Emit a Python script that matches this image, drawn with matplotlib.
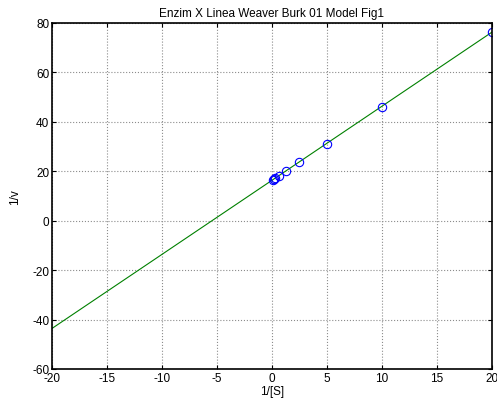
import numpy as np
from matplotlib import pyplot as plt

plt.rcParams['font.family'] = ['Liberation Sans', 'DejaVu Sans']
plt.rcParams['axes.unicode_minus'] = False

# data points (1/[S], 1/v)
inv_s = [20, 10, 5, 2.5, 1.25, 0.625, 0.3125, 0.15625, 0.078125]
inv_v = [76.3, 46.2, 31.2, 23.8, 20.0, 18.2, 17.2, 16.8, 16.5]

# fitted line ends
fit_x = [-20, 20]
fit_y = [-43.6, 76.3]

x_ticks = [-20, -15, -10, -5, 0, 5, 10, 15, 20]
y_ticks = [-60, -40, -20, 0, 20, 40, 60, 80]

fig = plt.figure(figsize=(4.97, 4.10), dpi=100)
ax = fig.add_axes([0.1046, 0.0976, 0.8853, 0.8439])

ax.plot(fit_x, fit_y, color=(0, 0.5, 0), lw=0.8)
ax.plot(inv_s, inv_v, 'o', mfc='none', mec='blue', ms=6, mew=0.8)

ax.set_xlim(-20, 20)
ax.set_ylim(-60, 80)
ax.set_xticks(x_ticks)
ax.set_yticks(y_ticks)
ax.grid(True, color='0.55', linestyle=':', lw=0.8)
ax.tick_params(direction='in', top=True, right=True, length=3, labelsize=8.5, pad=2)
for s in ax.spines.values():
    s.set_linewidth(1.2)

ax.set_title('Enzim X Linea Weaver Burk 01 Model Fig1', fontsize=8.5, pad=5)
ax.set_xlabel('1/[S]', fontsize=8.5, labelpad=1)
ax.set_ylabel('1/v', fontsize=8.5, labelpad=8)

fig.savefig('out.png', dpi=100)
